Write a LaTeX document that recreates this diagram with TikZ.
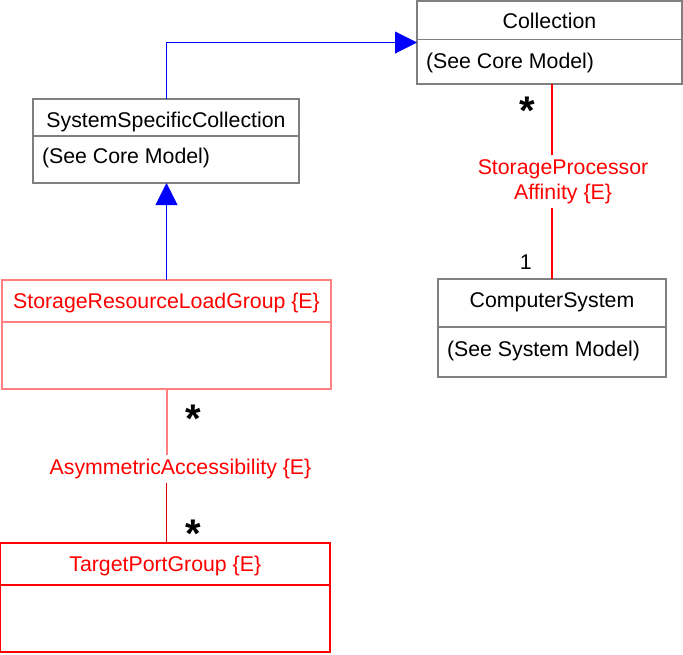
\documentclass[tikz,border=0pt]{standalone}
\usepackage{fontspec}
\setmainfont{Liberation Sans}
\usepackage{tikz}
\usetikzlibrary{arrows.meta,positioning,calc}

\definecolor{umlLine}{HTML}{7F7F7F}
\definecolor{umlRed}{HTML}{FF0000}
\definecolor{umlPink}{HTML}{FF8080}
\definecolor{umlDeepRed}{HTML}{D80000}
\definecolor{umlBlue}{HTML}{0000FF}

% one pixel of the sheet
\newcommand{\px}{0.5pt}

\tikzset{
  umlSheet/.style={
    x=\px, y=\px,
    font=\fontsize{10.65}{12.5}\selectfont,
    every node/.style={inner sep=0pt, outer sep=0pt},
    line width=0.5pt,
  },
  classBox/.style={draw=umlLine, line width=0.8pt, fill=white},
  classBoxExt/.style={classBox, draw=umlPink, line width=1pt},
  classBoxNew/.style={classBox, draw=umlRed, line width=0.6pt},
  classRule/.style={umlLine, line width=0.8pt},
  className/.style={anchor=base, text=black},
  classNameExt/.style={className, text=umlRed},
  classAttr/.style={anchor=base west, text=black},
  genArrow/.style={-{Triangle[length=11pt, width=11pt]}, umlBlue, line width=0.5pt},
  assocLine/.style={umlRed, line width=0.6pt},
  assocLabel/.style={text=umlRed, align=center, inner xsep=0pt, inner ysep=2pt},
  multStar/.style={anchor=base, font=\fontsize{20}{24}\selectfont\bfseries},
  multOne/.style={anchor=base},
}

\begin{document}
\begin{tikzpicture}[umlSheet]

\useasboundingbox (0,0) rectangle (683,-654);

% ============================================================
% Core classes (black outline)
% ============================================================
\node[classBox, minimum width=265*\px, minimum height=83*\px]
  (coll) at (549.5,-42.5) {};
\draw[classRule] ([yshift=-38.5*\px]coll.north west) -- ([yshift=-38.5*\px]coll.north east);
\node[className] (collName) at ([yshift=-27*\px]coll.north) {Collection};
\node[classAttr] (collAttr) at ([xshift=9*\px, yshift=-67*\px]coll.north west) {(See Core Model)};

\node[classBox, minimum width=266*\px, minimum height=84*\px]
  (ssc) at (166,-141) {};
\draw[classRule] ([yshift=-37*\px]ssc.north west) -- ([yshift=-37*\px]ssc.north east);
\node[className] (sscName) at ([yshift=-28.5*\px]ssc.north) {SystemSpecificCollection};
\node[classAttr] (sscAttr) at ([xshift=9*\px, yshift=-64.5*\px]ssc.north west) {(See Core Model)};

\node[classBox, minimum width=228*\px, minimum height=98*\px]
  (cs) at (552,-328) {};
\draw[classRule] ([yshift=-48*\px]cs.north west) -- ([yshift=-48*\px]cs.north east);
\node[className] (csName) at ([yshift=-28.5*\px]cs.north) {ComputerSystem};
\node[classAttr] (csAttr) at ([xshift=9*\px, yshift=-77*\px]cs.north west) {(See System Model)};

% ============================================================
% Experimental classes (red outline, red name)
% ============================================================
\node[classBoxExt, minimum width=329*\px, minimum height=109*\px]
  (srlg) at (166.5,-334.5) {};
\draw[classRule, umlPink, line width=1pt] ([yshift=-42*\px]srlg.north west) -- ([yshift=-42*\px]srlg.north east);
\node[classNameExt] (srlgName) at ([yshift=-28.5*\px]srlg.north) {StorageResourceLoadGroup \{E\}};

\node[classBoxNew, minimum width=329.5*\px, minimum height=109*\px]
  (tpg) at (165.25,-597.5) {};
\draw[classRule, umlRed, line width=0.6pt] ([yshift=-42*\px]tpg.north west) -- ([yshift=-42*\px]tpg.north east);
\node[classNameExt] (tpgName) at ([yshift=-28.5*\px]tpg.north) {TargetPortGroup \{E\}};

% ============================================================
% Inheritance
% ============================================================
\draw[genArrow] (ssc.north) |- (coll.west);
\draw[genArrow] (srlg.north) -- (srlg.north |- ssc.south);

% ============================================================
% StorageProcessorAffinity: Collection * -- 1 ComputerSystem
% ============================================================
\node[assocLabel] (spAff) at (563,-181.5) {StorageProcessor\\Affinity \{E\}};
\draw[assocLine] (coll.south -| cs.north) -- (cs.north |- spAff.north);
\draw[assocLine] (cs.north) -- (cs.north |- spAff.south);
\node[multStar] (spStar) at (527,-124) {*};
\node[multOne] (spOne) at (525.7,-269.5) {1};

% ============================================================
% AsymmetricAccessibility: StorageResourceLoadGroup * -- * TargetPortGroup
% ============================================================
\node[assocLabel] (asym) at (180.5,-469) {AsymmetricAccessibility \{E\}};
\draw[assocLine, umlPink, line width=1pt] (srlg.south) -- (srlg.south |- asym.north);
\draw[assocLine, umlDeepRed] (tpg.north -| srlg.south) -- (srlg.south |- asym.south);
\node[multStar] (asymStarA) at (193,-432) {*};
\node[multStar] (asymStarB) at (193,-547) {*};

\end{tikzpicture}
\end{document}
